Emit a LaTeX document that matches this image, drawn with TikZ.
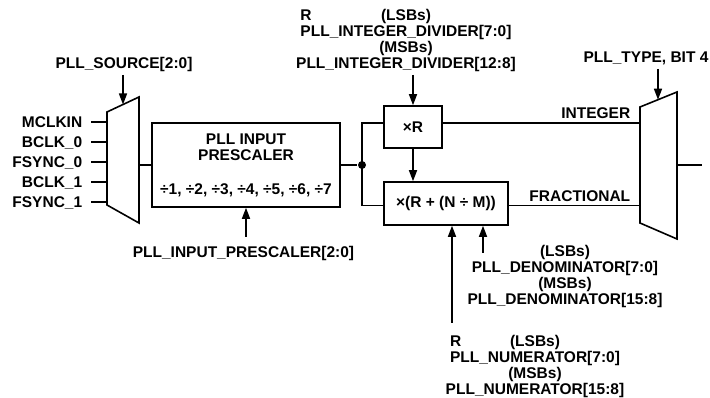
\documentclass[tikz,border=0pt]{standalone}
\usepackage{fontspec}
\setmainfont{Liberation Sans}
\usepackage{calc}
\usetikzlibrary{arrows.meta, positioning, calc}

\begin{document}
\begin{tikzpicture}[x=1pt, y=-1pt, line width=1.6pt, >={Triangle[length=11pt, width=8pt]},
    every node/.style={font=\fontsize{15.5}{16}\selectfont\bfseries, inner sep=0pt},
    lbl/.style={text height=10.7pt, text depth=0pt},
    blockbox/.style={draw, line width=1.6pt, align=center},
    regtext/.style={align=center}]
    \useasboundingbox (0,0) rectangle (710,398);

    \coordinate (mA-tl) at (107,112);
    \coordinate (mA-tr) at (139,97);
    \coordinate (mA-br) at (139,223);
    \coordinate (mA-bl) at (107,205);
    \coordinate (mA-out) at (139,165);
    \draw (mA-tl) -- (mA-tr) -- (mA-br) -- (mA-bl) -- cycle;

    \coordinate (mB-tl) at (640,107);
    \coordinate (mB-tr) at (677,92);
    \coordinate (mB-br) at (677,239);
    \coordinate (mB-bl) at (640,223);
    \coordinate (mB-out) at (677,165);
    \coordinate (clkOut) at (702,165);
    \draw (mB-tl) -- (mB-tr) -- (mB-br) -- (mB-bl) -- cycle;
    \draw (mB-out) -- (clkOut);

    \foreach \name/\txt/\y in {mclk/MCLKIN/122, bclkA/BCLK\_0/142, fsyncA/FSYNC\_0/162, bclkB/BCLK\_1/182, fsyncB/FSYNC\_1/202}
    {
        \node[lbl, anchor=east, inner xsep=8pt] (\name) at (91,\y) {\txt};
        \draw (\name) -- (\name -| mA-tl);
    }

    \node[lbl] (srcSel) at (124,63) {PLL\_SOURCE[2:0]};
    \coordinate (srcTail) at (123,75);
    \coordinate (srcTip) at (123,104.5);
    \draw[->] (srcTail) -- (srcTip);

    \node[blockbox, minimum width=188pt, minimum height=84pt] (presc) at (246,165)
        {PLL INPUT\\PRESCALER\\[18pt]÷1, ÷2, ÷3, ÷4, ÷5, ÷6, ÷7};
    \draw (mA-out) -- (presc.west);

    \node[lbl] (prescSel) at (243.5,252) {PLL\_INPUT\_PRESCALER[2:0]};
    \coordinate (prescTail) at (246,237);
    \draw[->] (prescTail) -- (presc.south);

    \node[circle, fill, minimum size=8pt] (split) at (362,165) {};
    \draw (presc.east) -- (split);

    \node[blockbox, lbl, minimum width=58pt, minimum height=42pt] (xr) at (413,127) {×R};
    \node[blockbox, minimum width=124pt, minimum height=43pt] (frac) at (446,203.5) {×(R + (N ÷ M))};
    \draw (split.center) |- ([yshift=4pt]xr.west);
    \draw (split.center) |- ([yshift=-2pt]frac.west);
    \draw[->] (xr.south) -- (xr.south |- frac.north);

    \node[regtext] (intDiv) at (406,40.5)
        {\rlap{R}\makebox[\widthof{PLL\_INTEGER\_DIVIDER[7:0]}]{(LSBs)}\\PLL\_INTEGER\_DIVIDER[7:0]\\(MSBs)\\PLL\_INTEGER\_DIVIDER[12:8]};
    \coordinate (intTail) at (413,75);
    \draw[->] (intTail) -- (xr.north);

    \node[regtext] (denom) at (565,276.5)
        {(LSBs)\\PLL\_DENOMINATOR[7:0]\\(MSBs)\\PLL\_DENOMINATOR[15:8]};
    \coordinate (denTail) at (483,253);
    \draw[->] (denTail) -- (denTail |- frac.south);

    \node[regtext] (numer) at (535,366.5)
        {\rlap{R}\makebox[\widthof{PLL\_NUMERATOR[7:0]}]{(LSBs)}\\PLL\_NUMERATOR[7:0]\\(MSBs)\\PLL\_NUMERATOR[15:8]};
    \coordinate (numTail) at (452,323);
    \draw[->] (numTail) -- (numTail |- frac.south);

    \draw ([yshift=4pt]xr.east) -- ([yshift=4pt]xr.east -| mB-tl);
    \draw ([yshift=-2pt]frac.east) -- ([yshift=-2pt]frac.east -| mB-tl);
    \node[lbl, anchor=east] (intLbl) at (631,113) {INTEGER};
    \node[lbl, anchor=east] (fracLbl) at (631,196) {FRACTIONAL};

    \node[lbl] (typeSel) at (646,57) {PLL\_TYPE, BIT 4};
    \coordinate (typeTail) at (658,69);
    \coordinate (typeTip) at (658,99.7);
    \draw[->] (typeTail) -- (typeTip);
\end{tikzpicture}
\end{document}
